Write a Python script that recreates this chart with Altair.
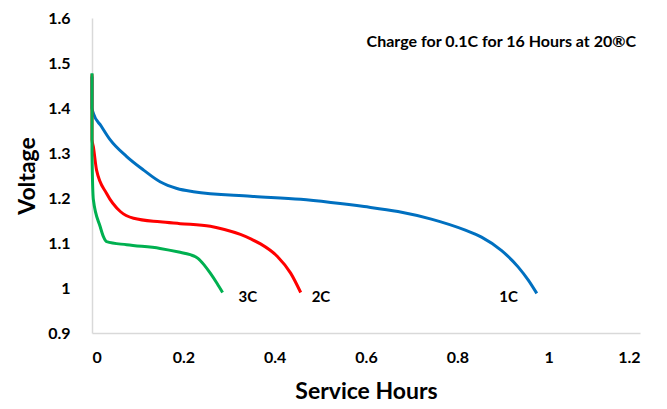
import altair as alt
import pandas as pd

# 1C discharge
x_1c = [0.0, 0.0, 0.003, 0.02, 0.04, 0.076, 0.113, 0.149, 0.186, 0.222, 0.347, 0.457, 0.523, 0.596, 0.670, 0.743, 0.816, 0.853, 0.897, 0.933, 0.955, 0.974]
v_1c = [1.47, 1.40, 1.388, 1.36, 1.329, 1.292, 1.262, 1.236, 1.221, 1.214, 1.204, 1.197, 1.190, 1.181, 1.170, 1.153, 1.129, 1.113, 1.083, 1.047, 1.018, 0.988]
# 2C discharge
x_2c = [0.0, 0.0, 0.003, 0.010, 0.032, 0.062, 0.091, 0.149, 0.193, 0.259, 0.290, 0.325, 0.350, 0.369, 0.406, 0.435, 0.457]
v_2c = [1.475, 1.33, 1.314, 1.262, 1.210, 1.170, 1.155, 1.147, 1.143, 1.137, 1.130, 1.119, 1.108, 1.098, 1.070, 1.033, 0.990]
# 3C discharge
x_3c = [0.0, 0.0, 0.003, 0.018, 0.025, 0.032, 0.076, 0.149, 0.190, 0.215, 0.232, 0.245, 0.259, 0.274, 0.286]
v_3c = [1.477, 1.30, 1.196, 1.136, 1.114, 1.103, 1.096, 1.088, 1.080, 1.074, 1.066, 1.052, 1.033, 1.010, 0.990]

series_names = ["1C", "2C", "3C"]
series_colors = ["#0070C0", "#FF0000", "#00B050"]
label_x = [0.892, 0.481, 0.321]
label_y = [0.98, 0.98, 0.98]
note_text = "Charge for 0.1C for 16 Hours at 20®C"

rows = []
for name, xs, vs in zip(series_names, [x_1c, x_2c, x_3c], [v_1c, v_2c, v_3c]):
    for i, (a, b) in enumerate(zip(xs, vs)):
        rows.append({"series": name, "order": i, "hours": a, "voltage": b})
df = pd.DataFrame(rows)
lab = pd.DataFrame({"series": series_names, "hours": label_x, "voltage": label_y})

FONT = "Lato"
xs = alt.Scale(domain=[0, 1.2], nice=False)
ys = alt.Scale(domain=[0.9, 1.6], nice=False)

lines = alt.Chart(df).mark_line(strokeWidth=3, interpolate="monotone").encode(
    x=alt.X("hours:Q", scale=xs, title="Service Hours",
            axis=alt.Axis(values=[0, 0.2, 0.4, 0.6, 0.8, 1, 1.2], format="~g")),
    y=alt.Y("voltage:Q", scale=ys, title="Voltage",
            axis=alt.Axis(values=[0.9, 1, 1.1, 1.2, 1.3, 1.4, 1.5, 1.6], format="~g")),
    color=alt.Color("series:N", scale=alt.Scale(domain=series_names, range=series_colors), legend=None),
    order="order:Q",
    detail="series:N",
)

labels = alt.Chart(lab).mark_text(font=FONT, fontWeight="bold", fontSize=15, color="#000000", align="left").encode(
    x=alt.X("hours:Q", scale=xs),
    y=alt.Y("voltage:Q", scale=ys),
    text="series:N",
)

note = alt.Chart(pd.DataFrame({"t": [note_text]})).mark_text(
    font=FONT, fontWeight="bold", fontSize=16, color="#000000", align="right"
).encode(x=alt.value(544), y=alt.value(24), text="t:N")

chart = alt.layer(lines, labels, note).properties(
    width=548, height=315,
    padding={"left": 84, "top": 10, "right": 15, "bottom": 72},
    autosize=alt.AutoSizeParams(type="none"),
).configure_view(stroke=None).configure_axis(
    grid=False, ticks=False, domainColor="#D9D9D9", domainWidth=1.5,
    labelFont=FONT, labelFontWeight="bold", labelFontSize=16, labelColor="#000000",
    titleFont=FONT, titleFontWeight="bold", titleFontSize=23, titleColor="#000000",
).configure_axisY(labelPadding=22, titlePadding=8).configure_axisX(labelPadding=16, titlePadding=15)

chart.save("out.html", embed_options={"renderer": "svg", "actions": False})
